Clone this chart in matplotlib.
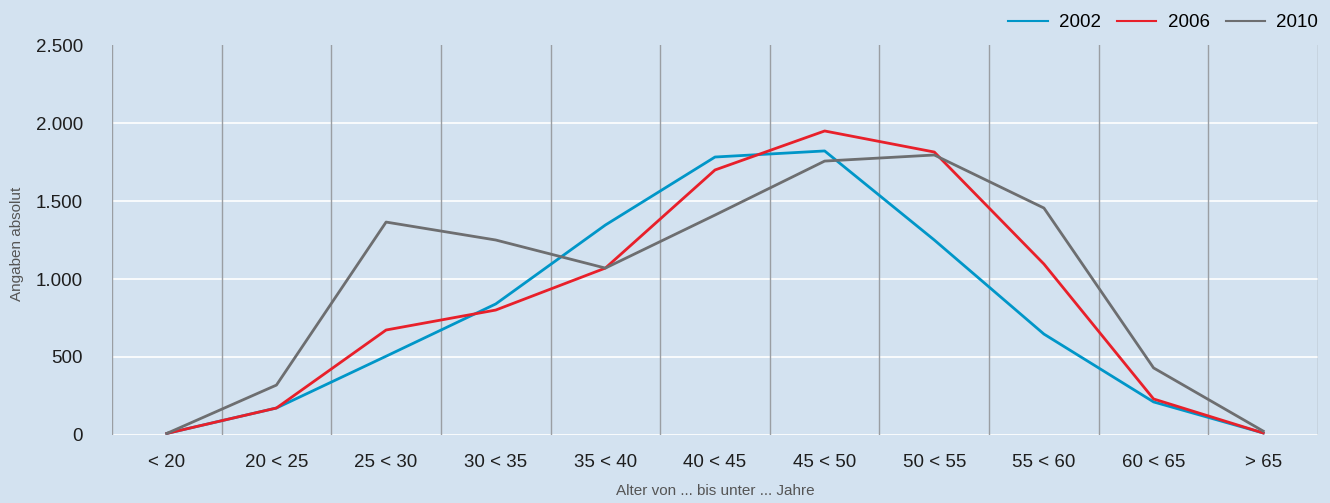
import matplotlib
matplotlib.use('Agg')
import matplotlib.pyplot as plt
import numpy as np

plt.rcParams['font.family'] = ['Liberation Sans', 'DejaVu Sans']

categories = ['< 20', '20 < 25', '25 < 30', '30 < 35', '35 < 40', '40 < 45',
              '45 < 50', '50 < 55', '55 < 60', '60 < 65', '> 65']
y2002 = [10, 173, 505, 840, 1346, 1782, 1821, 1250, 647, 212, 13]
y2006 = [10, 173, 673, 801, 1070, 1699, 1949, 1814, 1096, 231, 13]
y2010 = [10, 320, 1365, 1250, 1070, 1410, 1756, 1795, 1455, 430, 25]
yticks = [0, 500, 1000, 1500, 2000, 2500]

bg = '#d3e2f0'
fig = plt.figure(figsize=(13.3, 5.03), dpi=100, facecolor=bg)
ax = fig.add_axes([0.0842, 0.1352, 0.9068, 0.7753], facecolor=bg)

x = np.arange(len(categories))
ax.plot(x, y2002, color='#0096c8', lw=2, label='2002')
ax.plot(x, y2006, color='#e8202a', lw=2, label='2006')
ax.plot(x, y2010, color='#6d6e70', lw=2, label='2010')

ax.set_xlim(-0.5, len(categories) - 0.5)
ax.set_ylim(0, 2500)
ax.set_yticks(yticks)
ax.set_yticklabels([f'{v:,}'.replace(',', '.') for v in yticks])
ax.set_xticks(x)
ax.set_xticklabels(categories)

for yv in yticks[:-1]:
    ax.axhline(yv, color='white', lw=1.2, zorder=0.5)
for b in np.arange(-0.5, len(categories) - 0.4, 1.0):
    ax.axvline(b, color='#9a9ea3', lw=1, zorder=0.6)

for s in ax.spines.values():
    s.set_visible(False)
ax.tick_params(length=0, labelsize=13.5, colors='#1e1e1e')
ax.tick_params(axis='y', pad=21)
ax.tick_params(axis='x', pad=14)

ax.set_ylabel('Angaben absolut', fontsize=11, color='#555555')
ax.yaxis.set_label_coords(-0.073, 0.49)
ax.set_xlabel('Alter von ... bis unter ... Jahre', fontsize=11, color='#555555', labelpad=9)

leg = ax.legend(loc='lower right', bbox_to_anchor=(1.0, 1.035), ncol=3, frameon=False,
                fontsize=13.5, handlelength=2.1, columnspacing=0.85, handletextpad=0.6,
                borderaxespad=0, borderpad=0)
for h in leg.get_lines():
    h.set_linewidth(1.5)

fig.savefig('out.png', dpi=100, facecolor=bg)
